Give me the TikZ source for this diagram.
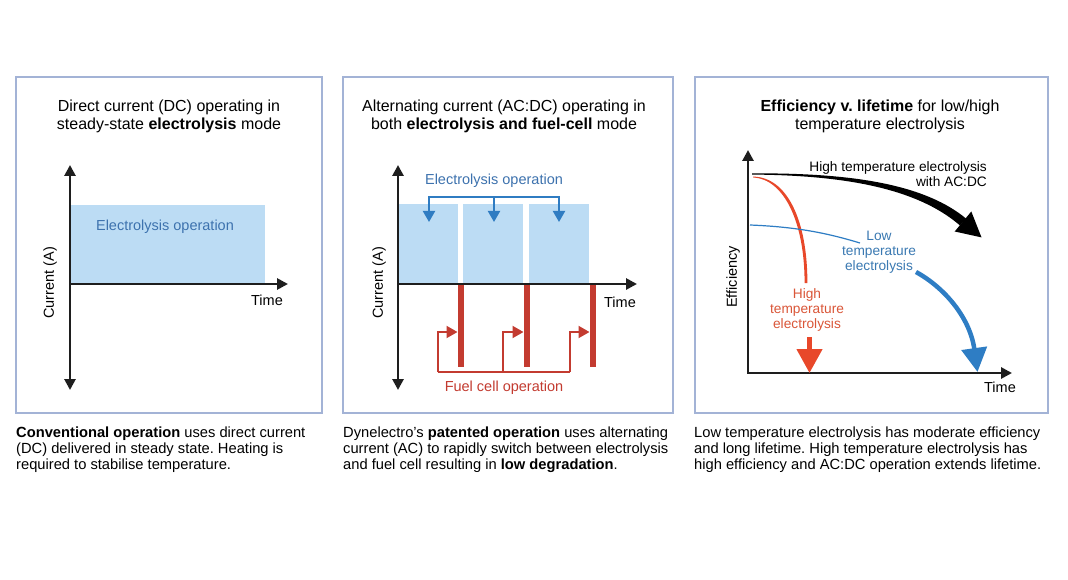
\documentclass[tikz,border=0pt]{standalone}
\usepackage{fontspec}
\setmainfont{Liberation Sans}
\usetikzlibrary{arrows.meta}
\frenchspacing
\definecolor{frame}{HTML}{A3B3D6}
\definecolor{elbox}{HTML}{BCDCF4}
\definecolor{eltext}{HTML}{3D72AE}
\definecolor{elarrow}{HTML}{2F7CC2}
\definecolor{fcred}{HTML}{C33B30}
\definecolor{hotred}{HTML}{E8482A}
\definecolor{hotlabel}{HTML}{DA5638}
\definecolor{lowblue}{HTML}{2E7DC4}
\definecolor{lowlabel}{HTML}{3A79B2}
\definecolor{axiscol}{HTML}{1E1E1E}
\tikzset{
  axtip/.tip={Triangle[length=11pt,width=11pt]},
  smalltip/.tip={Triangle[length=11pt,width=12pt]},
  bigtip/.tip={Triangle[length=24pt,width=25pt]},
}
\begin{document}
\begin{tikzpicture}[x=1pt,y=-1pt,
  panel/.style={draw=frame, line width=2pt},
  axisline/.style={line width=2.8pt, draw=axiscol},
  title/.style={font=\fontsize{16}{18}\selectfont, align=center, inner sep=0pt},
  lab/.style={font=\fontsize{14.5}{15.5}\selectfont, inner sep=0pt, align=center},
  slab/.style={font=\fontsize{13.7}{15}\selectfont, inner sep=0pt, align=center},
  caption/.style={font=\fontsize{14.7}{15.6}\selectfont, inner sep=0pt, anchor=north west, align=left},
  bluebr/.style={draw=elarrow, line width=2pt, line join=miter},
  redbr/.style={draw=fcred, line width=2pt, line join=miter},
]
\fill[white] (0,0) rectangle (1068,580);
\useasboundingbox (0,0) rectangle (1068,580);

% ---------- panels ----------
\draw[panel] (16,77) rectangle (322,413);
\draw[panel] (343,77) rectangle (673,413);
\draw[panel] (695,77) rectangle (1048,413);

% ---------- panel 1 ----------
\node[title] (t1) at (169,116) {Direct current (DC) operating in\\steady-state \textbf{electrolysis} mode};
\fill[elbox] (70,205) rectangle (265,284);
\node[lab, text=eltext] (el1) at (165,227) {Electrolysis operation};
\coordinate (a1top) at (70,165);
\coordinate (a1bot) at (70,390);
\coordinate (a1o) at (70,284);
\coordinate (a1r) at (288,284);
\draw[axisline, axtip-axtip] (a1top) -- (a1bot);
\draw[axisline, -axtip] (a1o) -- (a1r);
\node[lab] (time1) at (267,300) {Time};
\node[lab, rotate=90] (cur1) at (50,283) {Current (A)};

% ---------- panel 2 ----------
\node[title] (t2) at (504,116) {Alternating current (AC:DC) operating in\\both \textbf{electrolysis and fuel-cell} mode};
\fill[elbox] (398,204) rectangle (458,284);
\fill[elbox] (463,204) rectangle (523,284);
\fill[elbox] (529,204) rectangle (589,284);
\fill[fcred] (457.5,284) rectangle (464,367);
\fill[fcred] (523.5,284) rectangle (530,367);
\fill[fcred] (589.5,284) rectangle (596,367);
\coordinate (a2top) at (398,165);
\coordinate (a2bot) at (398,390);
\coordinate (a2o) at (398,284);
\coordinate (a2r) at (637,284);
\draw[axisline, axtip-axtip] (a2top) -- (a2bot);
\draw[axisline, -axtip] (a2o) -- (a2r);
\node[lab, text=eltext] (el2) at (494,181) {Electrolysis operation};
\coordinate (bl1) at (429,222);
\coordinate (bl2) at (494,222);
\coordinate (bl3) at (559,222);
\coordinate (blm) at (494,197);
\draw[bluebr, smalltip-smalltip] (bl1) |- (blm) -| (bl3);
\draw[bluebr, -smalltip] (blm) -- (bl2);
\node[lab, text=fcred] (fc2) at (504,388) {Fuel cell operation};
\coordinate (rb1) at (438,372);
\coordinate (rb2) at (503,372);
\coordinate (rb3) at (570,372);
\coordinate (rt1) at (457.5,332);
\coordinate (rt2) at (523.5,332);
\coordinate (rt3) at (589.5,332);
\draw[redbr] (rb1) -- (rb3);
\draw[redbr, -smalltip] (rb1) |- (rt1);
\draw[redbr, -smalltip] (rb2) |- (rt2);
\draw[redbr, -smalltip] (rb3) |- (rt3);
\node[lab] (time2) at (620,302) {Time};
\node[lab, rotate=90] (cur2) at (379,283) {Current (A)};

% ---------- panel 3 ----------
\node[title] (t3) at (880,116) {\textbf{Efficiency v. lifetime} for low/high\\temperature electrolysis};
\coordinate (a3top) at (748,150);
\coordinate (a3o) at (748,373);
\coordinate (a3r) at (1012,373);
\draw[axisline, line join=miter, axtip-axtip] (a3top) -- (a3o) -- (a3r);
\node[lab] (time3) at (1000,387) {Time};
\node[lab, rotate=90] (eff) at (733,277) {Efficiency};

% black tapered arrow (high temp with AC:DC)
\fill[black] (752,173.4) .. controls (860,172.6) and (927,186.5) .. (966,218.5)
  -- (960,225.5) .. controls (923,193.5) and (860,175.2) .. (752,174.6) -- cycle;
\fill[black] (981.5,237.4) -- (971.3,211.5) -- (954.7,231.5) -- cycle;
\node[slab, align=right, anchor=east] (hacdc) at (987,174.5) {High temperature electrolysis\\with AC:DC};

% red: high temperature electrolysis
\fill[hotred] (753,176.6) .. controls (787,177) and (807.4,220) .. (807.4,283)
  -- (804.6,283) .. controls (804.6,222) and (784,179) .. (753,177.4) -- cycle;
\node[slab, text=hotlabel] (hte) at (807,310) {High\\temperature\\electrolysis};
\coordinate (hs) at (809.5,337);
\coordinate (he) at (809.5,373);
\draw[hotred, line width=4.5pt, -bigtip] (hs) -- (he);

% blue: low temperature electrolysis
\coordinate (ls0) at (750,225);
\coordinate (ls1) at (860,243);
\draw[lowblue, line width=1.2pt] (ls0) .. controls (800,227) and (830,234) .. (ls1);
\node[slab, text=lowlabel] (lte) at (879,252) {Low\\temperature\\electrolysis};
\coordinate (lb0) at (916,272);
\coordinate (lb1) at (977.5,372);
\draw[lowblue, line width=4.5pt, -bigtip] (lb0) .. controls (945,288) and (970,318) .. (lb1);

% ---------- captions ----------
\node[caption] (c1) at (16,427) {\textbf{Conventional operation} uses direct current\\(DC) delivered in steady state. Heating is\\required to stabilise temperature.};
\node[caption] (c2) at (343,427) {Dynelectro's \textbf{patented operation} uses alternating\\current (AC) to rapidly switch between electrolysis\\and fuel cell resulting in \textbf{low degradation}.};
\node[caption] (c3) at (694,427) {Low temperature electrolysis has moderate efficiency\\and long lifetime. High temperature electrolysis has\\high efficiency and AC:DC operation extends lifetime.};
\end{tikzpicture}
\end{document}
